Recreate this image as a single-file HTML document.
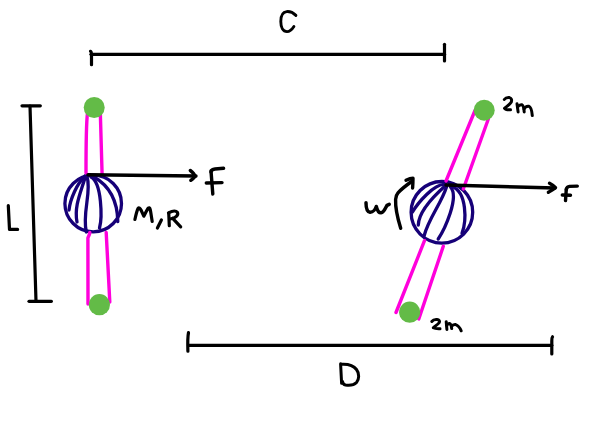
<!DOCTYPE html>
<html><head><meta charset="utf-8">
<style>
html,body{margin:0;padding:0;background:#fff;width:616px;height:439px;overflow:hidden;font-family:"Liberation Sans",sans-serif;}
svg{display:block;}
</style></head>
<body>
<svg width="616" height="439" viewBox="0 0 616 439">
<g fill="none" stroke-linecap="round" stroke-linejoin="round">
<!-- C dimension bar -->
<g stroke="#000" stroke-width="3.2">
<path d="M91,54.3 L444.5,54.3"/>
<path d="M90.5,51.3 C91.5,51.5 91.5,53 91.5,55 L91.5,64.7"/>
<path d="M444.5,44.3 L444.5,61"/>
<path d="M295.9,15.4 C293,12.5 290,11.3 286.7,11.6 C282.5,12 280.8,16 280.8,21.5 C280.8,27.5 283,31.6 287,31.6 C290,31.6 292,29.5 293.9,26.5" stroke-width="2.9"/>
</g>
<!-- L dimension bar -->
<g stroke="#000" stroke-width="3.2">
<path d="M22,105.8 L40.3,105.8"/>
<path d="M30,106 L36,301"/>
<path d="M29,301.3 L51.4,301.3"/>
<path d="M8.3,205.6 L9.5,229.4 L17.6,229.4"/>
</g>
<!-- left object -->
<g stroke="#160078" stroke-width="3.3">
<circle cx="93.2" cy="203.5" r="28.3"/>
<path d="M85.0,176.0 C77.0,183.6 70.2,199.1 69.0,210.0"/>
<path d="M85.5,176.0 C81.4,191.1 73.8,205.9 77.0,222.0"/>
<path d="M87.0,176.5 C91.9,191.4 81.9,213.0 86.3,232.0"/>
<path d="M91.0,177.0 C102.0,182.8 102.2,218.5 99.5,228.0"/>
<path d="M94.0,177.0 C111.3,186.9 117.5,202.3 117.8,221.6"/>
</g>
<g stroke="#ff00dc" stroke-width="3.4">
<path d="M87.5,113 C86,125 86,150 86,173"/>
<path d="M100.3,112 L102.1,174.5"/>
<path d="M89.8,232.5 C89.6,235 88.5,236 87.9,238 L88,304"/>
<path d="M106.2,232.5 L109.8,302"/>
</g>
<circle cx="94.2" cy="107.5" r="10.5" fill="#63bb47"/>
<circle cx="99.4" cy="304.7" r="10.6" fill="#63bb47"/>
<g stroke="#000" stroke-width="3.4">
<path d="M88,174.8 L196,176"/>
<path d="M190.3,170.5 C192.5,172 194.5,174 195,176.6 C193.5,178 192,179.5 190.8,180.3"/>
<path d="M211,171 L212.8,194"/>
<path d="M211,172 Q211.5,169.3 215,169 L223.6,168.3"/>
<path d="M206.3,183 L222,182.6"/>
</g>
<g stroke="#000" stroke-width="3.2">
<path d="M134.9,219.5 C136,214.5 137,210.5 138,208.5 C139,207.2 140,208 141,210 L143.8,216.2 C145.5,213 147,209.5 148.5,208 C149.5,207.2 150.2,208.5 150.7,212 L152.2,221.5"/>
<path d="M161.4,220 L157.4,228"/>
<path d="M168.75,213.2 L169.3,225.7"/>
<path d="M168.5,212.8 C172,211 176,210.5 177.5,212.5 C178.5,215 176,218 170,219"/>
<path d="M172.7,218.3 L180.7,226.8"/>
</g>
<!-- right object -->
<g stroke="#160078" stroke-width="3.3">
<circle cx="441.9" cy="212.3" r="30.8"/>
<path d="M445.6,184.5 C434.5,182.6 417.2,203.8 412.5,212.0"/>
<path d="M445.6,185.5 C435.6,194.4 418.7,210.7 418.3,225.0"/>
<path d="M446.5,187.0 C441.1,203.8 428.9,218.0 424.2,235.5"/>
<path d="M450.5,187.0 C459.7,197.2 444.5,229.4 438.2,239.0"/>
<path d="M452.0,186.5 C467.3,192.1 466.5,221.3 462.0,233.4"/>
</g>
<g stroke="#ff00dc" stroke-width="3.4">
<path d="M475,110.5 L446,181"/>
<path d="M488.5,118.5 L463.3,189"/>
<path d="M424.5,240.7 L396,312.5"/>
<path d="M443.3,246.3 L418.8,319"/>
</g>
<circle cx="484.2" cy="110.2" r="10.5" fill="#63bb47"/>
<circle cx="409.7" cy="312.2" r="10.6" fill="#63bb47"/>
<g stroke="#000" stroke-width="3.4">
<path d="M446,185 L555,188"/>
<path d="M549.5,183.2 C552,184.5 554,186 555.5,187.6 C553,189.5 550.5,191 548.4,192.3"/>
<path d="M566.3,189 L565.5,200.6"/>
<path d="M566.3,189.5 Q566.8,186.6 569.5,186.4 L577.3,186.1"/>
<path d="M562.3,195 L570.5,195.2"/>
</g>
<g stroke="#000" stroke-width="3.2">
<path d="M366,202.8 C366,208 367,212 370,212.3 C373,212.5 375.5,209 376.3,206.5 C377,209.5 378,212.8 381,212.8 C384,212.5 385.5,208 387,205.3 L389.2,204.3" stroke-width="3.5"/>
<path d="M400.7,228.3 C397.5,218 395.3,207 395.6,199.5 C395.8,196 396.5,194.5 398,192.8 C401,189.5 406,185.5 412.3,181" stroke-width="3.4"/>
<path d="M406,180.2 C408.5,179 411,178.2 413,178.2 C413,181.5 412.8,185 412.6,188" stroke-width="3.4"/>
</g>
<g stroke="#000" stroke-width="3">
<path d="M504.3,99.5 C505.5,97.8 507.5,97.4 509.5,97.6 C511.5,98.1 512,100 511.3,102 C510,104.5 506.5,106.5 504.5,108.3 C505.5,110 507.5,110 510.5,109.8"/>
<path d="M517,103.8 L518.1,111.9"/>
<path d="M517.5,107 C519,105 520.5,104.5 522,104.8 C523.5,105.5 524,109 524.2,111.9"/>
<path d="M524,109 C525,107 527,106 528.7,106.2 C531,107 532,112 532.3,115.6"/>
</g>
<g stroke="#000" stroke-width="3">
<path d="M431.8,321.5 C433,320 435,319.4 437,319.6 C439.2,319.9 440,321 439.3,322.5 C438,324.5 435,326 433.3,327.8 C435,328.8 437.5,328.8 440,328.7"/>
<path d="M446.2,321.7 L446.9,329.4"/>
<path d="M446.8,325.5 C447.5,324 448.5,323.3 449.5,323.5 C451,324 451.5,326.5 451.7,328.6"/>
<path d="M451.6,326.5 C452.5,325 454,324.4 455.7,324.6 C458.5,325.5 460,328 461.2,330.8"/>
</g>
<!-- D dimension bar -->
<g stroke="#000" stroke-width="3.2">
<path d="M189,345.3 L551.8,345.3"/>
<path d="M188.5,332.6 C187.8,336 187.6,342 187.9,351.2"/>
<path d="M552.5,336.8 C551.8,337.5 551.8,339 551.8,341 L551.8,354"/>
<path d="M340.6,363.8 L341.6,383.3 M341,364.3 C348,363.8 353.5,365.5 356.5,369.5 C359.5,373.5 359.3,379 356.5,382.5 C354,385 349.5,385.6 345.5,385 C343.5,384.6 342.8,383.5 342.5,381.5" stroke-width="3"/>
</g>
</g>
</svg>
</body></html>
